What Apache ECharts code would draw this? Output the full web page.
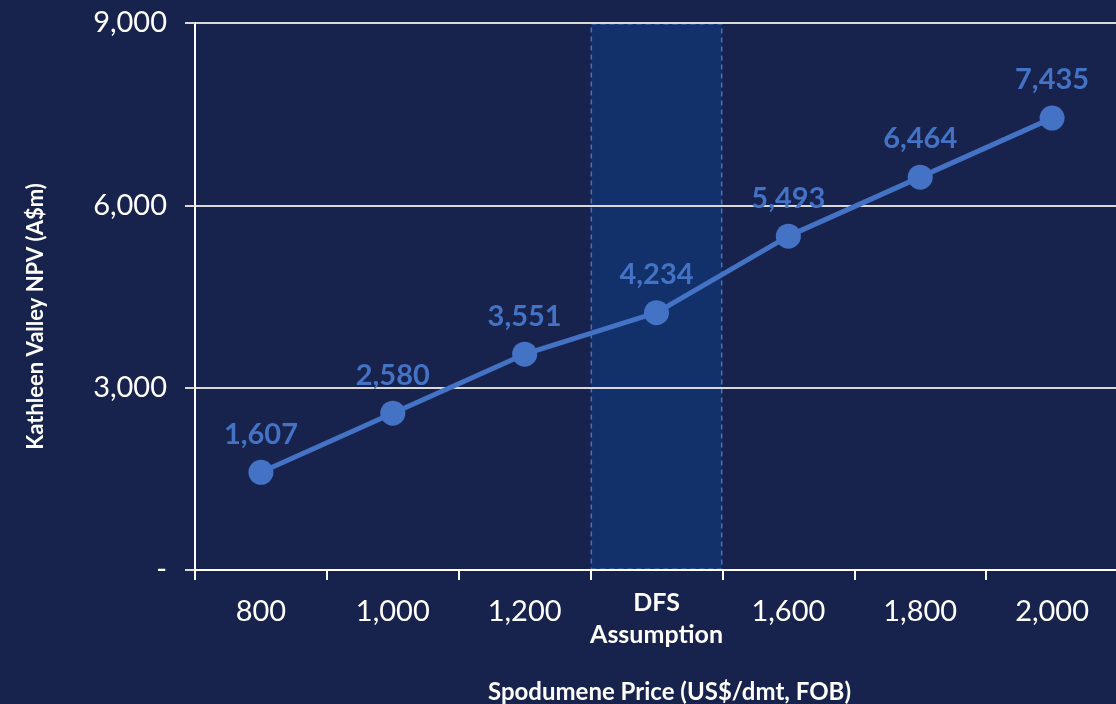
<!DOCTYPE html>
<html>
<head>
<meta charset="utf-8">
<script src="https://cdn.jsdelivr.net/npm/echarts@6/dist/echarts.min.js"></script>
<style>
  html, body { margin: 0; padding: 0; background: #18234d; }
  #chart { width: 1116px; height: 704px; }
</style>
</head>
<body>
<div id="chart"></div>
<script>
// spodumene price cases (the 4th one is the DFS base case)
const categories = ["800", "1,000", "1,200", "DFS\nAssumption", "1,600", "1,800", "2,000"];
const npv = [1607, 2580, 3551, 4234, 5493, 6464, 7435];
const dfsBand = [null, null, null, 9000, null, null, null]; // shaded column
const yTicks = [0, 3000, 6000, 9000];

const blue = "#4472c4";
const font = "Lato, 'Open Sans', sans-serif";

const chart = echarts.init(document.getElementById("chart"), null, { renderer: "canvas" });

chart.setOption({
  backgroundColor: "#18234d",
  animation: false,
  grid: { left: 195, right: -2, top: 23, bottom: 134, outerBoundsMode: "none", containLabel: false },
  xAxis: {
    type: "category",
    data: categories,
    name: "Spodumene Price (US$/dmt, FOB)",
    nameLocation: "middle",
    nameGap: 110,
    nameTextStyle: { color: "#fff", fontFamily: font, fontWeight: "bold", fontSize: 24, padding: [0, 0, 0, 26] },
    axisLine: { lineStyle: { color: "#fff", width: 2 } },
    axisTick: { show: true, length: 10, lineStyle: { color: "#fff", width: 2 } },
    axisLabel: {
      interval: 0,
      color: "#fff",
      fontFamily: font,
      fontSize: 29,
      margin: 17,
      // DFS case gets a two-line bold label, the prices get a taller line so they sit lower
      formatter: v => v.indexOf("\n") >= 0 ? "{d|" + v.replace("\n", "}\n{d|") + "}" : "{n|" + v + "}",
      rich: {
        n: { color: "#fff", fontFamily: font, fontSize: 29, lineHeight: 50 },
        d: { color: "#fff", fontFamily: font, fontWeight: "bold", fontSize: 25, lineHeight: 32 }
      }
    },
    splitLine: { show: false }
  },
  yAxis: {
    type: "value",
    min: 0,
    max: 9000,
    interval: 3000,
    name: "Kathleen Valley NPV (A$m)",
    nameLocation: "middle",
    nameGap: 148,
    nameTextStyle: { color: "#fff", fontFamily: font, fontWeight: "bold", fontSize: 22, padding: [0, 40, 0, 0] },
    axisLine: { show: true, lineStyle: { color: "#fff", width: 2 } },
    axisTick: { show: true, length: 10, lineStyle: { color: "#d9d9d9", width: 2 } },
    axisLabel: {
      color: "#fff",
      fontFamily: font,
      fontSize: 29,
      margin: 28,
      formatter: v => v === 0 ? "-" : v.toLocaleString("en-US")
    },
    splitLine: { show: true, lineStyle: { color: "#d9d9d9", width: 2 } }
  },
  series: [
    {
      name: "DFS",
      type: "bar",
      data: dfsBand,
      barWidth: "100%",
      barCategoryGap: "0%",
      z: -1,
      silent: true,
      itemStyle: {
        color: "#12306a",
        borderColor: blue,
        borderWidth: 1.5,
        borderType: [5, 4]
      }
    },
    {
      name: "NPV",
      type: "line",
      data: npv,
      symbol: "circle",
      symbolSize: 25,
      z: 5,
      lineStyle: { color: blue, width: 5 },
      itemStyle: { color: blue },
      label: {
        show: true,
        position: "top",
        distance: 11,
        color: blue,
        fontFamily: font,
        fontWeight: "bold",
        fontSize: 29,
        formatter: p => p.value.toLocaleString("en-US")
      }
    }
  ]
});
</script>
</body>
</html>
